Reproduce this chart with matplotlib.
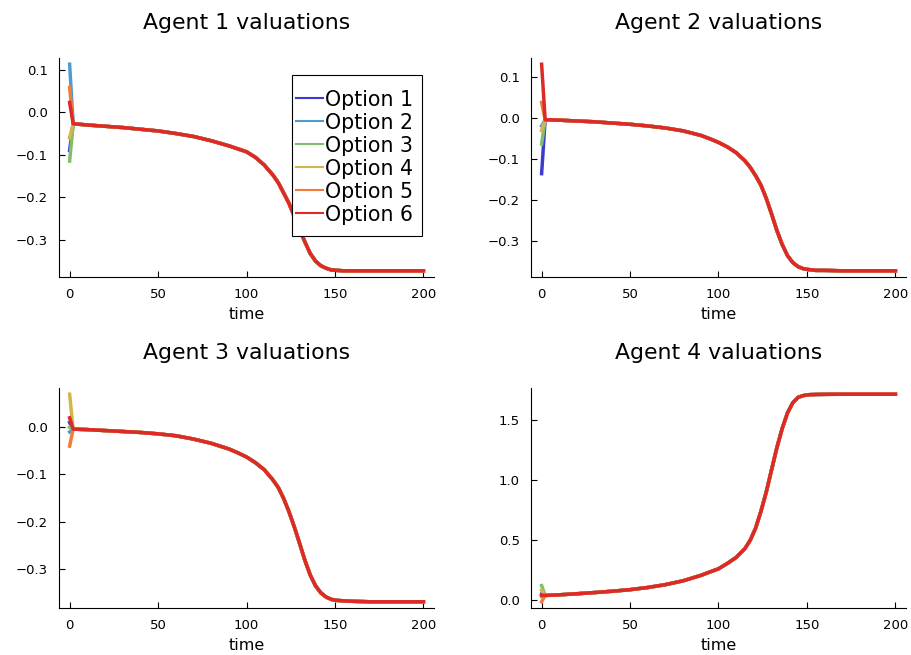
import matplotlib
matplotlib.use('Agg')
import matplotlib.pyplot as plt
from matplotlib.patches import Rectangle

# time samples (t=0 is the option-specific start, afterwards all options agree)
time = [0, 2, 10, 20, 30, 40, 50, 60, 70, 80, 90, 95, 100, 105, 110, 115,
        118, 121, 124, 127, 130, 133, 136, 139, 142, 145, 148, 151, 155,
        160, 170, 200]

options = ['Option 1', 'Option 2', 'Option 3', 'Option 4', 'Option 5', 'Option 6']
colors = ['#3b3bcf', '#4f9bd0', '#7dbf6c', '#d2b64a', '#f07b3a', '#dd2a26']

# starting valuation of each option, per agent
start1 = [-0.09, 0.113, -0.115, -0.06, 0.058, 0.023]
start2 = [-0.136, -0.02, -0.064, -0.031, 0.037, 0.13]
start3 = [0.01, -0.01, 0.0, 0.07, -0.04, 0.02]
start4 = [0.05, 0.03, 0.12, 0.08, -0.015, 0.04]

# common trajectory from t=2 on
path1 = [-0.027, -0.030, -0.033, -0.036, -0.040, -0.044, -0.050, -0.057, -0.067,
         -0.079, -0.086, -0.093, -0.106, -0.124, -0.148, -0.166, -0.190, -0.214,
         -0.245, -0.276, -0.305, -0.332, -0.350, -0.361, -0.367, -0.371, -0.372,
         -0.373, -0.373, -0.373, -0.373]
path2 = [-0.005, -0.006, -0.008, -0.010, -0.013, -0.016, -0.020, -0.025, -0.032,
         -0.043, -0.051, -0.060, -0.071, -0.085, -0.105, -0.121, -0.141, -0.164,
         -0.196, -0.234, -0.274, -0.308, -0.335, -0.352, -0.362, -0.367, -0.369,
         -0.371, -0.371, -0.372, -0.372]
path3 = [-0.004, -0.005, -0.007, -0.009, -0.011, -0.014, -0.018, -0.025, -0.034,
         -0.046, -0.054, -0.063, -0.075, -0.090, -0.112, -0.128, -0.151, -0.179,
         -0.211, -0.246, -0.282, -0.313, -0.336, -0.351, -0.360, -0.365, -0.367,
         -0.368, -0.369, -0.370, -0.370]
path4 = [0.038, 0.043, 0.052, 0.062, 0.073, 0.086, 0.104, 0.128, 0.160,
         0.205, 0.233, 0.260, 0.305, 0.355, 0.43, 0.50, 0.60, 0.74,
         0.90, 1.086, 1.27, 1.43, 1.56, 1.645, 1.69, 1.705, 1.712,
         1.714, 1.715, 1.716, 1.716]

agents = [('Agent 1 valuations', start1, path1),
          ('Agent 2 valuations', start2, path2),
          ('Agent 3 valuations', start3, path3),
          ('Agent 4 valuations', start4, path4)]

W, H = 912, 655
fig = plt.figure(figsize=(W / 100, H / 100), dpi=100)

# axes boxes in pixels: left, top, right, bottom
boxes = [(59, 58, 434, 277), (531, 58, 906, 277),
         (59, 388, 434, 608), (531, 388, 906, 608)]

for i, (title, start, path) in enumerate(agents):
    l, t, r, b = boxes[i]
    ax = fig.add_axes([l / W, 1 - b / H, (r - l) / W, (b - t) / H])
    for k, name in enumerate(options):
        ax.plot(time, [start[k]] + path, color=colors[k], lw=2.5, label=name)
    ax.margins(x=0.03, y=0.03)
    ax.set_xticks([0, 50, 100, 150, 200])
    if i == 3:
        ax.set_yticks([0.0, 0.5, 1.0, 1.5])
        ax.set_yticklabels(['0.0', '0.5', '1.0', '1.5'])
    ax.set_title(title, fontsize=15.8, pad=21)
    ax.set_xlabel('time', fontsize=11.5, labelpad=4)
    ax.spines['top'].set_visible(False)
    ax.spines['right'].set_visible(False)
    ax.tick_params(direction='in', length=4, labelsize=9.5, width=0.8, pad=8)
    if i == 0:
        # legend frame drawn separately (wider vertical than horizontal padding)
        frame = Rectangle((292 / W, 1 - 236 / H), 130 / W, 161 / H,
                          transform=fig.transFigure, facecolor='white',
                          edgecolor='black', lw=0.8, zorder=4.9, clip_on=False)
        ax.add_patch(frame)
        leg = ax.legend(loc='upper left', bbox_to_anchor=(296 / W, 1 - 90 / H),
                        bbox_transform=fig.transFigure,
                        borderaxespad=0, borderpad=0, fontsize=14.8,
                        frameon=False, handlelength=1.3, handleheight=1.0,
                        handletextpad=0.1, labelspacing=0.13)
        leg.set_zorder(5)
        for line in leg.get_lines():
            line.set_linewidth(1.5)

fig.savefig('out.png', dpi=100)
